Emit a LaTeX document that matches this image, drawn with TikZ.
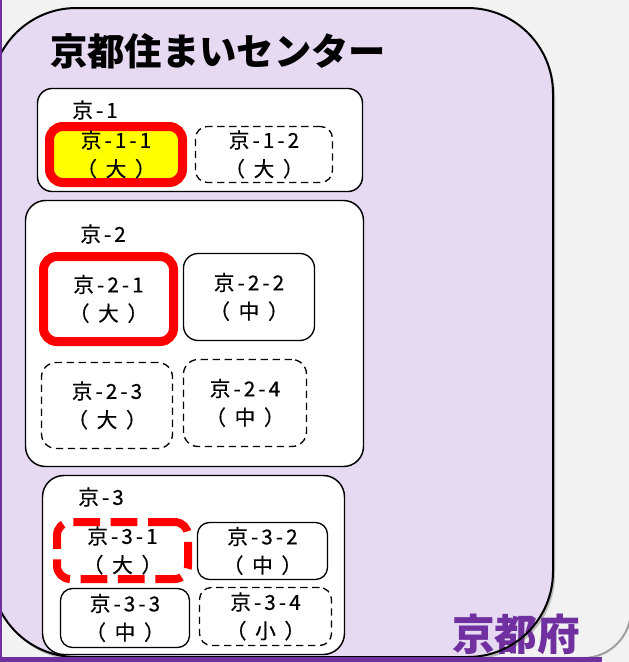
\documentclass[tikz,border=0pt]{standalone}
\usepackage{fontspec}
\setmainfont{Noto Sans CJK JP}
\newfontfamily\lblfont[LetterSpace=15, FakeBold=0.5]{Noto Sans CJK JP}
\usetikzlibrary{positioning}
\definecolor{slidegray}{RGB}{242,242,242}
\definecolor{kyolav}{RGB}{230,217,242}
\definecolor{kyopurple}{RGB}{112,48,160}
\definecolor{pickred}{RGB}{255,0,0}
\definecolor{pickyellow}{RGB}{255,255,0}
\newcommand{\roomsize}[1]{（\kern.42em#1\kern.42em）}

\tikzset{
  grp/.style={draw=black, line width=1.1pt, fill=white},
  grplbl/.style={anchor=west, inner sep=0pt, font=\lblfont\fontsize{15.5}{21}\selectfont},
  unit/.style={draw=black, line width=1pt, fill=white, rounded corners=9pt, inner sep=0pt,
    align=center, font=\lblfont\fontsize{15.5}{21.5}\selectfont},
  unitdash/.style={unit, dash pattern=on 5.5pt off 3.5pt},
  pickbox/.style={unit, draw=pickred, line width=6.75pt, rounded corners=10pt},
  pickdash/.style={pickbox, line width=6pt, dash pattern=on 20pt off 8pt}
}

\begin{document}
\begin{tikzpicture}[x=0.75pt, y=-0.75pt]
  \useasboundingbox (0,0) rectangle (629,662);
  \clip (0,0) rectangle (629,662);

  % Slide background
  \fill[slidegray] (0,0) rectangle (629,662);
  \draw[gray!75, line width=1.5pt, rounded corners=36pt] (-100,-100) rectangle (631,658);

  % Prefecture panel
  \fill[gray!55, rounded corners=64pt] (-7,11) rectangle (555,660);
  \fill[kyolav, rounded corners=64pt] (-9,8) rectangle (553,657);
  \node[font=\bfseries\fontsize{32}{34}\selectfont, text=kyopurple] (pref) at (516,634) {京都府};
  \draw[black, line width=1.5pt, rounded corners=64pt] (-9,8) rectangle (553,657);
  \node[anchor=west, inner sep=0pt, font=\bfseries\fontsize{28}{30}\selectfont] (center) at (50,51) {京都住まいセンター};

  % Group 1
  \draw[grp, rounded corners=11pt] (37.5,88.5) rectangle (362.5,191.5);
  \node[grplbl] (g1) at (72,110) {京-1};
  \node[pickbox, fill=pickyellow, minimum width=99.75pt, minimum height=42pt] (k11) at (116,154.5) {京-1-1\\\roomsize{大}};
  \node[unitdash, minimum width=102.75pt, minimum height=42pt] (k12) at (264,154.5) {京-1-2\\\roomsize{大}};

  % Group 2
  \draw[grp, rounded corners=15pt] (25.5,200.5) rectangle (363.5,466.5);
  \node[grplbl] (g2) at (80,234) {京-2};
  \node[pickbox, minimum width=97.5pt, minimum height=63.75pt] (k21) at (108.5,299) {京-2-1\\\roomsize{大}};
  \node[unit, rounded corners=11pt, minimum width=98.25pt, minimum height=65.25pt] (k22) at (249,297) {京-2-2\\\roomsize{中}};
  \node[unitdash, rounded corners=11pt, minimum width=98.25pt, minimum height=64.5pt] (k23) at (107,405.5) {京-2-3\\\roomsize{大}};
  \node[unitdash, rounded corners=11pt, minimum width=92.25pt, minimum height=65.25pt] (k24) at (245,403) {京-2-4\\\roomsize{中}};

  % Group 3
  \draw[grp, rounded corners=16pt] (42.5,475.5) rectangle (344.5,654.5);
  \node[grplbl] (g3) at (78,497) {京-3};
  \node[pickdash, fill=none, minimum width=98.25pt, minimum height=42.75pt] (k31) at (122.5,550.5) {京-3-1\\\roomsize{大}};
  \node[unit, minimum width=97.5pt, minimum height=42.75pt] (k32) at (262.5,551) {京-3-2\\\roomsize{中}};
  \node[unit, minimum width=96.75pt, minimum height=44.25pt] (k33) at (125,618) {京-3-3\\\roomsize{中}};
  \node[unitdash, minimum width=99pt, minimum height=43.5pt] (k34) at (265.5,616.5) {京-3-4\\\roomsize{小}};

  % Slide edges
  \fill[kyopurple] (0,657) rectangle (602,662);
  \fill[kyopurple] (0,0) rectangle (2.5,662);
\end{tikzpicture}
\end{document}
